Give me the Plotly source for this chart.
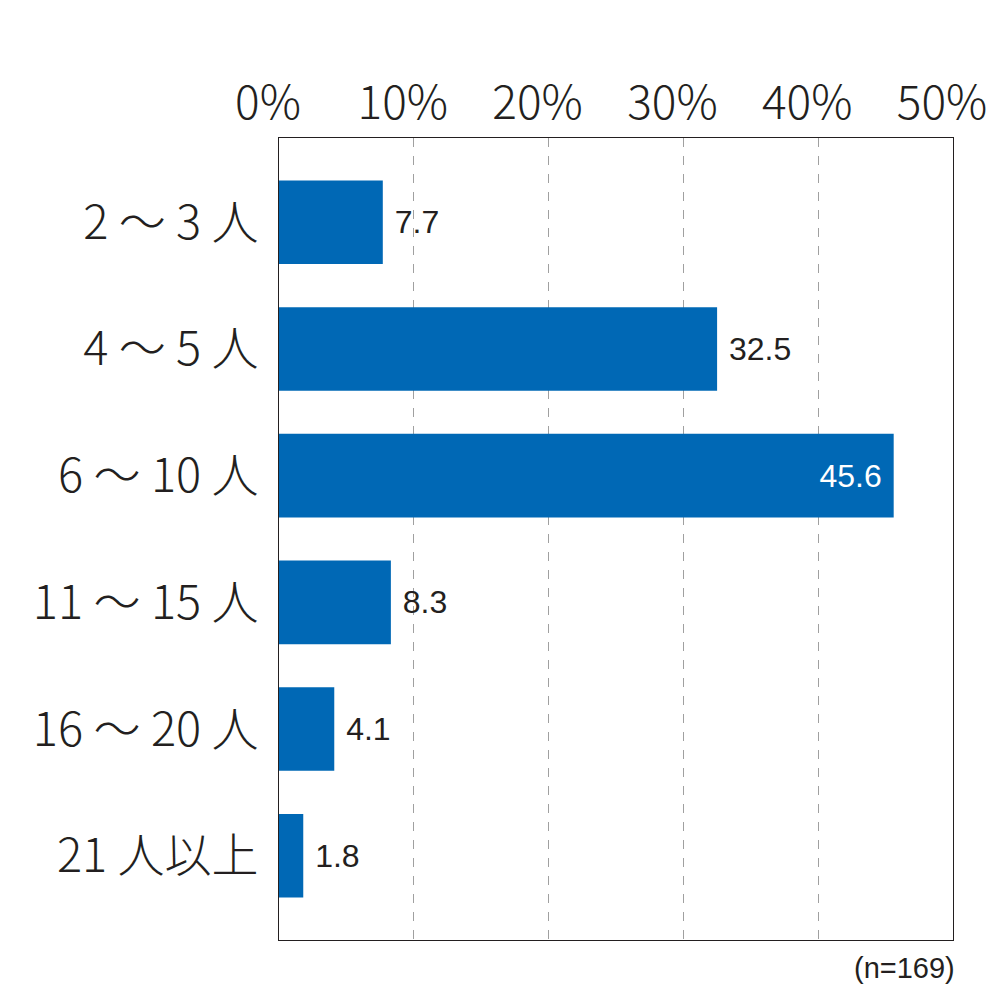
import plotly.graph_objects as go

categories = ["2 ～ 3 人", "4 ～ 5 人", "6 ～ 10 人", "11 ～ 15 人", "16 ～ 20 人", "21 人以上"]
values = [7.7, 32.5, 45.6, 8.3, 4.1, 1.8]
tick_vals = [0, 10, 20, 30, 40, 50]
tick_text = ["0%", "10%", "20%", "30%", "40%", "50%"]
note = "(n=169)"

FONT = "Noto Sans CJK JP, Noto Sans, sans-serif"
NUMFONT = "Liberation Sans, Arial, sans-serif"
inside = [v > 40 for v in values]
texts = [f"{v:.1f} " if ins else f" {v:.1f}" for v, ins in zip(values, inside)]
positions = ["inside" if ins else "outside" for ins in inside]
text_colors = ["white" if ins else "#231f20" for ins in inside]

fig = go.Figure(go.Bar(
    x=values, y=categories, orientation="h",
    marker=dict(color="#0068B5", line=dict(width=0)),
    text=texts, textposition=positions,
    insidetextanchor="end",
    textfont=dict(size=32, color=text_colors, family=NUMFONT),
    cliponaxis=False,
))

fig.update_layout(
    width=992, height=992,
    margin=dict(l=271, r=47, t=130, b=60, autoexpand=False),
    paper_bgcolor="white", plot_bgcolor="white",
    bargap=0.34, showlegend=False,
    font=dict(family=FONT, color="#231f20"),
)
fig.update_xaxes(
    range=[0, 50], side="top", tickvals=tick_vals, ticktext=tick_text,
    tickfont=dict(size=46, family=FONT, color="#231f20", weight=300),
    showgrid=True, gridcolor="#a0a0a0", griddash="dash", gridwidth=1,
    zeroline=False, showline=True, linecolor="#231f20", linewidth=1, mirror=True,
    ticks="", ticklabelstandoff=0, ticklabelshift=-11, automargin=False,
)
fig.update_yaxes(
    range=[5.665, -0.665], type="category",
    tickfont=dict(size=47, family=FONT, color="#231f20", weight=300),
    showline=True, linecolor="#231f20", linewidth=1, mirror=True,
    ticks="", showgrid=False, ticklabelstandoff=10, automargin=False,
)
fig.add_annotation(
    text=note, x=1, y=0, xref="paper", yref="paper",
    xanchor="right", yanchor="top", yshift=-10, xshift=4, showarrow=False,
    font=dict(size=29, family=NUMFONT, color="#231f20"),
)
fig.write_html("out.html")
